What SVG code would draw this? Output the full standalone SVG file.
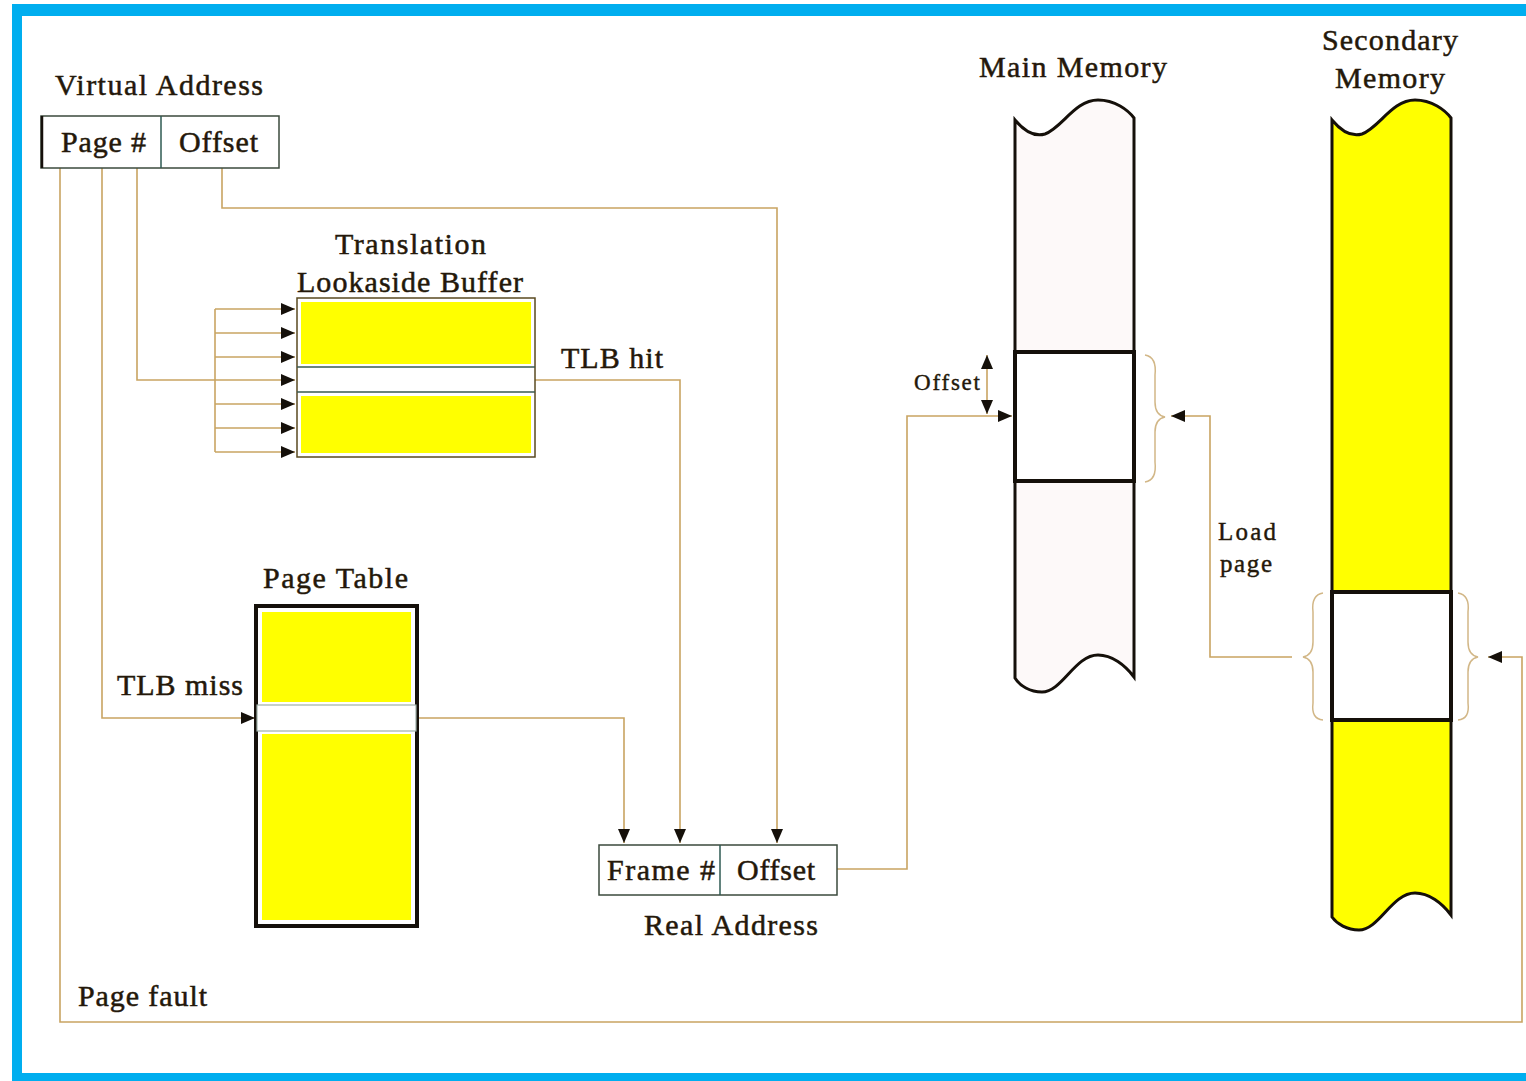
<svg xmlns="http://www.w3.org/2000/svg" width="1526" height="1081" viewBox="0 0 1526 1081">
<style>
.t{font-family:"Liberation Serif","Times New Roman",serif;font-size:30px;fill:#24180a;stroke:#24180a;stroke-width:0.5;}
.s{font-size:23px;stroke-width:0.4;}
.m{font-size:25px;stroke-width:0.4;}
.c{fill:none;stroke:#c9a462;stroke-width:1.6;}
.a{marker-end:url(#ah);}
.box{fill:#fff;stroke:#3b4a3c;stroke-width:1.5;}
.thick{stroke:#15100a;stroke-width:4;}
.y{fill:#ffff00;}
.br{fill:none;stroke:#d2b787;stroke-width:1.5;}
</style>
<defs>
<marker id="ah" markerUnits="userSpaceOnUse" markerWidth="14" markerHeight="12" refX="14" refY="6" orient="auto-start-reverse">
<path d="M0,0 L14,6 L0,12 z" fill="#15100a"/>
</marker>
</defs>
<rect x="0" y="0" width="1526" height="1081" fill="#fff"/>
<rect x="12" y="4" width="1514" height="1077" fill="#00aeef"/>
<rect x="22" y="16" width="1504" height="1057" fill="#fff"/>

<g id="connectors">
<path class="c a" d="M60,168 V1022 H1522 V657 H1488"/>
<path class="c a" d="M102,168 V718 H255"/>
<path class="c" d="M137,168 V380 H215"/>
<path class="c" d="M215,309 V452"/>
<path class="c a" d="M215,309 H295"/>
<path class="c a" d="M215,333 H295"/>
<path class="c a" d="M215,357 H295"/>
<path class="c a" d="M215,380 H295"/>
<path class="c a" d="M215,404 H295"/>
<path class="c a" d="M215,428 H295"/>
<path class="c a" d="M215,452 H295"/>
<path class="c a" d="M222,168 V208 H777 V843"/>
<path class="c a" d="M535,380 H680 V843"/>
<path class="c a" d="M417,718 H624 V843"/>
<path class="c a" d="M837,869 H907 V416 H1012"/>
<path class="c a" d="M987,355 V414" style="marker-start:url(#ah)"/>
<path class="c a" d="M1292,657 H1210 V416 H1171"/>
</g>

<g id="virtual-address">
<text class="t" x="55" y="95" textLength="208" lengthAdjust="spacing">Virtual Address</text>
<rect class="box" x="41" y="116" width="238" height="52"/>
<line x1="42" y1="116" x2="42" y2="168" stroke="#15100a" stroke-width="2.5"/>
<line x1="161" y1="116" x2="161" y2="168" stroke="#2e5a52" stroke-width="1.5"/>
<text class="t" x="61" y="152" textLength="85" lengthAdjust="spacing">Page #</text>
<text class="t" x="179" y="152" textLength="79" lengthAdjust="spacing">Offset</text>
</g>

<g id="tlb">
<text class="t" x="335" y="254" textLength="151" lengthAdjust="spacing">Translation</text>
<text class="t" x="297" y="292" textLength="226" lengthAdjust="spacing">Lookaside Buffer</text>
<rect x="297" y="298" width="238" height="159" fill="#fff" stroke="#5a4a20" stroke-width="1.5"/>
<rect class="y" x="301" y="302" width="230" height="62"/>
<rect class="y" x="301" y="396" width="230" height="57"/>
<line x1="297" y1="367" x2="535" y2="367" stroke="#3a5a50" stroke-width="1.3"/>
<line x1="297" y1="392" x2="535" y2="392" stroke="#3a5a50" stroke-width="1.3"/>
<text class="t" x="561" y="368" textLength="102" lengthAdjust="spacing">TLB hit</text>
</g>

<g id="page-table">
<text class="t" x="263" y="588" textLength="145" lengthAdjust="spacing">Page Table</text>
<rect class="thick" x="256" y="606" width="161" height="320" fill="#fff"/>
<rect class="y" x="262" y="612" width="149" height="90"/>
<rect class="y" x="262" y="734" width="149" height="186"/>
<rect x="257" y="705" width="159" height="26" fill="#fff" stroke="#9fb0a8" stroke-width="1.2"/>
<text class="t" x="117" y="695" textLength="126" lengthAdjust="spacing">TLB miss</text>
</g>

<g id="real-address">
<rect class="box" x="599" y="845" width="238" height="50"/>
<line x1="720" y1="845" x2="720" y2="895" stroke="#2e5a52" stroke-width="1.5"/>
<text class="t" x="607" y="880" textLength="108" lengthAdjust="spacing">Frame #</text>
<text class="t" x="737" y="880" textLength="78" lengthAdjust="spacing">Offset</text>
<text class="t" x="644" y="935" textLength="174" lengthAdjust="spacing">Real Address</text>
</g>

<g id="main-memory">
<text class="t" x="979" y="77" textLength="188" lengthAdjust="spacing">Main Memory</text>
<path d="M1015,120 C1025,132 1035,137 1045,134 C1062,128 1075,100 1098,100 C1115,100 1128,110 1134,118 L1134,677 C1125,665 1112,655 1098,655 C1075,655 1062,692 1042,692 C1030,692 1020,686 1015,678 Z" fill="#fdf9f9" stroke="#15100a" stroke-width="3"/>
<rect class="thick" x="1015" y="352" width="119" height="129" fill="#fff"/>
<path class="br" d="M1145,355 Q1157,357 1155,375 L1155,402 Q1155,415 1165,417 Q1155,419 1155,432 L1155,462 Q1157,480 1145,482"/>
<text class="t s" x="914" y="390" textLength="66" lengthAdjust="spacing">Offset</text>
</g>

<g id="secondary-memory">
<text class="t" x="1322" y="50" textLength="136" lengthAdjust="spacing">Secondary</text>
<text class="t" x="1335" y="88" textLength="110" lengthAdjust="spacing">Memory</text>
<path d="M1332,120 C1342,132 1352,137 1362,134 C1379,128 1392,100 1415,100 C1432,100 1445,110 1451,118 L1451,915 C1442,903 1429,893 1415,893 C1392,893 1379,930 1359,930 C1347,930 1337,924 1332,917 Z" fill="#ffff00" stroke="#15100a" stroke-width="3"/>
<rect class="thick" x="1332" y="592" width="119" height="128" fill="#fff"/>
<path class="br" d="M1323,593 Q1311,595 1313,612 L1313,642 Q1313,655 1303,657 Q1313,659 1313,672 L1313,703 Q1311,719 1323,720"/>
<path class="br" d="M1458,593 Q1470,595 1468,612 L1468,642 Q1468,655 1478,657 Q1468,659 1468,672 L1468,703 Q1470,719 1458,720"/>
<text class="t m" x="1218" y="540" textLength="58" lengthAdjust="spacing">Load</text>
<text class="t m" x="1220" y="572" textLength="52" lengthAdjust="spacing">page</text>
</g>

<g id="page-fault">
<text class="t" x="78" y="1006" textLength="129" lengthAdjust="spacing">Page fault</text>
</g>
</svg>
